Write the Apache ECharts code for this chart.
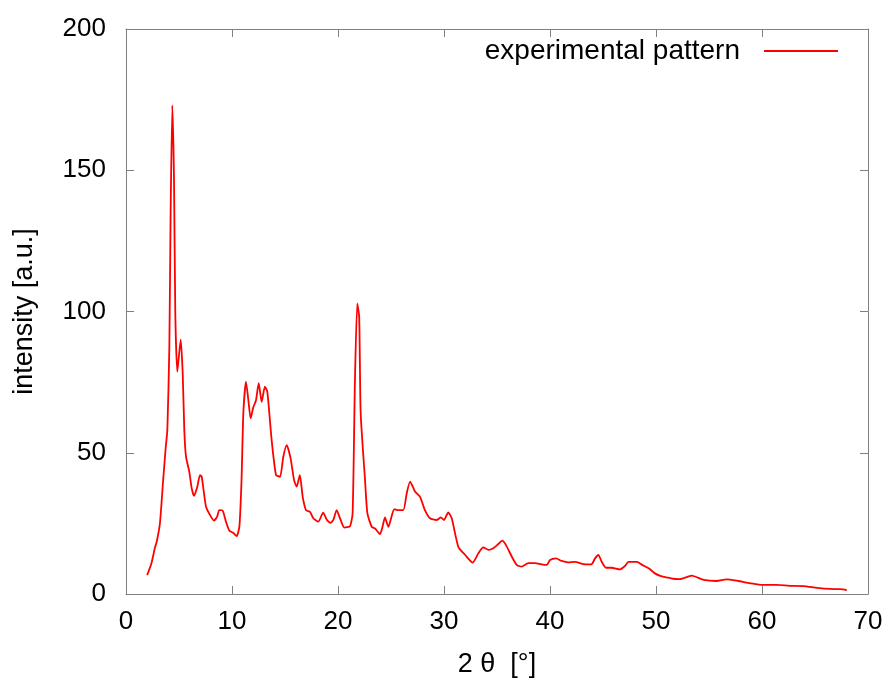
<!DOCTYPE html>
<html>
<head>
<meta charset="utf-8">
<script src="https://cdn.jsdelivr.net/npm/echarts@6/dist/echarts.min.js"></script>
<style>
  html, body { margin: 0; padding: 0; background: #fff; }
  #main { width: 892px; height: 686px; }
</style>
</head>
<body>
<div id="main"></div>
<script>
// 2 theta values (degrees)
var twoTheta = [
  2.0, 2.4, 2.75, 2.9, 3.2, 3.5, 3.75, 3.9, 4.09, 4.21,
  4.37, 4.53, 4.65, 4.84, 5.16, 5.35, 5.5, 5.66, 5.97, 6.2,
  6.42, 6.73, 6.98, 7.14, 7.36, 7.55, 7.92, 8.3, 8.6, 8.8,
  9.12, 9.43, 9.75, 10.1, 10.44, 10.7, 10.9, 11.07, 11.32, 11.54,
  11.76, 12.0, 12.26, 12.52, 12.8, 13.1, 13.33, 13.74, 14.15, 14.53,
  14.84, 15.16, 15.53, 15.85, 16.1, 16.4, 16.67, 16.98, 17.36, 17.67,
  18.14, 18.6, 18.93, 19.3, 19.56, 19.87, 20.19, 20.6, 21.13, 21.38,
  21.6, 21.82, 22.0, 22.14, 22.55, 22.77, 23.18, 23.5, 23.96, 24.2,
  24.43, 24.75, 25.31, 25.7, 26.16, 26.48, 26.8, 27.26, 27.74, 28.2,
  28.68, 29.3, 29.7, 30.0, 30.4, 30.73, 31.35, 32.0, 32.7, 33.24,
  33.7, 34.2, 34.65, 35.1, 35.5, 35.85, 36.4, 36.86, 37.3, 37.95,
  38.58, 39.2, 39.7, 40.0, 40.57, 41.1, 41.7, 42.36, 43.14, 43.9,
  44.25, 44.56, 44.88, 45.28, 45.8, 46.6, 47.07, 47.4, 48.2, 48.7,
  49.3, 49.9, 50.4, 51.0, 51.6, 52.26, 53.37, 54.5, 55.7, 56.67,
  57.76, 58.9, 60.1, 61.4, 62.6, 63.9, 65.2, 66.4, 67.4, 68.0
]

// intensity (a.u.)
var intensity = [
  6.7, 10.9, 16.7, 18.5, 25, 40, 52, 58, 87.5, 135,
  173, 146.5, 99.5, 78.7, 90, 78, 58, 48.6, 43.3, 37.4,
  34.7, 38, 42.1, 41.5, 35.6, 30.9, 28, 26, 27.4, 29.7,
  29.5, 25.6, 22.4, 21.7, 20.5, 24, 40.4, 64, 75.2, 68.7,
  62.2, 66, 68.5, 74.6, 68, 73.4, 71.6, 54.5, 42.1, 41.5,
  48.6, 52.7, 48, 40.4, 38, 42.1, 34.4, 29.7, 29.1, 26.8,
  25.6, 28.8, 26.4, 25.2, 26.2, 29.7, 26.8, 23.5, 24, 28.6,
  75.8, 102.9, 98, 64, 40.4, 28.6, 23.8, 23.2, 21.2, 23.8,
  27.1, 23.8, 30, 29.7, 29.7, 35.6, 39.8, 36.3, 34.4, 29.7,
  26.8, 26.2, 27.1, 26.2, 28.9, 26.8, 16.7, 13.8, 11.1, 14.4,
  16.5, 15.6, 16.2, 17.6, 18.9, 17.3, 13.2, 10.3, 9.7, 10.9,
  10.9, 10.5, 10.3, 12, 12.6, 11.7, 11.2, 11.4, 10.6, 10.5,
  12.6, 13.8, 11.4, 9.3, 9.3, 8.7, 9.9, 11.4, 11.4, 10.3,
  9.1, 7.3, 6.4, 5.9, 5.4, 5.3, 6.5, 5.0, 4.6, 5.2,
  4.6, 3.8, 3.2, 3.2, 2.9, 2.8, 2.2, 1.8, 1.7, 1.4
]

var seriesName = 'experimental pattern'

var points = twoTheta.map(function (x, i) { return [x, intensity[i]] })

var font = 'Liberation Sans, Arial, sans-serif'
var frameColor = '#808080'

// mirrored frame axis (top / right), ticks only
function frameAxis(pos, max, step) {
  return {
    type: 'value',
    position: pos,
    min: 0, max: max, interval: step,
    axisLine: { show: true, onZero: false, lineStyle: { color: frameColor, width: 1 } },
    axisTick: { inside: true, length: 8, lineStyle: { color: frameColor } },
    axisLabel: { show: false },
    splitLine: { show: false }
  }
}

var myChart = echarts.init(document.getElementById('main'))
myChart.setOption({
  animation: false,
  grid: { left: 126, right: 24, top: 29, bottom: 92, containLabel: false },
  legend: {
    right: 49,
    top: 32,
    align: 'right',
    itemWidth: 74,
    itemHeight: 2,
    itemGap: 0,
    icon: 'rect',
    textStyle: { fontFamily: font, fontSize: 28, color: '#000', padding: [0, 19, 0, 0] },
    data: [seriesName]
  },
  xAxis: [{
    type: 'value',
    min: 0, max: 70, interval: 10,
    name: '2 θ  [°]',
    nameLocation: 'middle',
    nameGap: 57,
    nameTextStyle: { fontFamily: font, fontSize: 27, color: '#000' },
    axisLine: { show: true, onZero: false, lineStyle: { color: frameColor, width: 1 } },
    axisTick: { inside: true, length: 8, lineStyle: { color: frameColor } },
    axisLabel: { margin: 15, fontFamily: font, fontSize: 26, color: '#000' },
    splitLine: { show: false }
  }, frameAxis('top', 70, 10)],
  yAxis: [{
    type: 'value',
    min: 0, max: 200, interval: 50,
    name: 'intensity [a.u.]',
    nameLocation: 'middle',
    nameGap: 88,
    nameTextStyle: { fontFamily: font, fontSize: 27, color: '#000' },
    axisLine: { show: true, onZero: false, lineStyle: { color: frameColor, width: 1 } },
    axisTick: { inside: true, length: 8, lineStyle: { color: frameColor } },
    axisLabel: { margin: 20, fontFamily: font, fontSize: 26, color: '#000' },
    splitLine: { show: false }
  }, frameAxis('right', 200, 50)],
  series: [{
    name: seriesName,
    type: 'line',
    xAxisIndex: 0,
    yAxisIndex: 0,
    data: points,
    showSymbol: false,
    symbol: 'none',
    smooth: 0.2,
    color: '#ff0000',
    lineStyle: { color: '#ff0000', width: 1.8 }
  }]
})
</script>
</body>
</html>
